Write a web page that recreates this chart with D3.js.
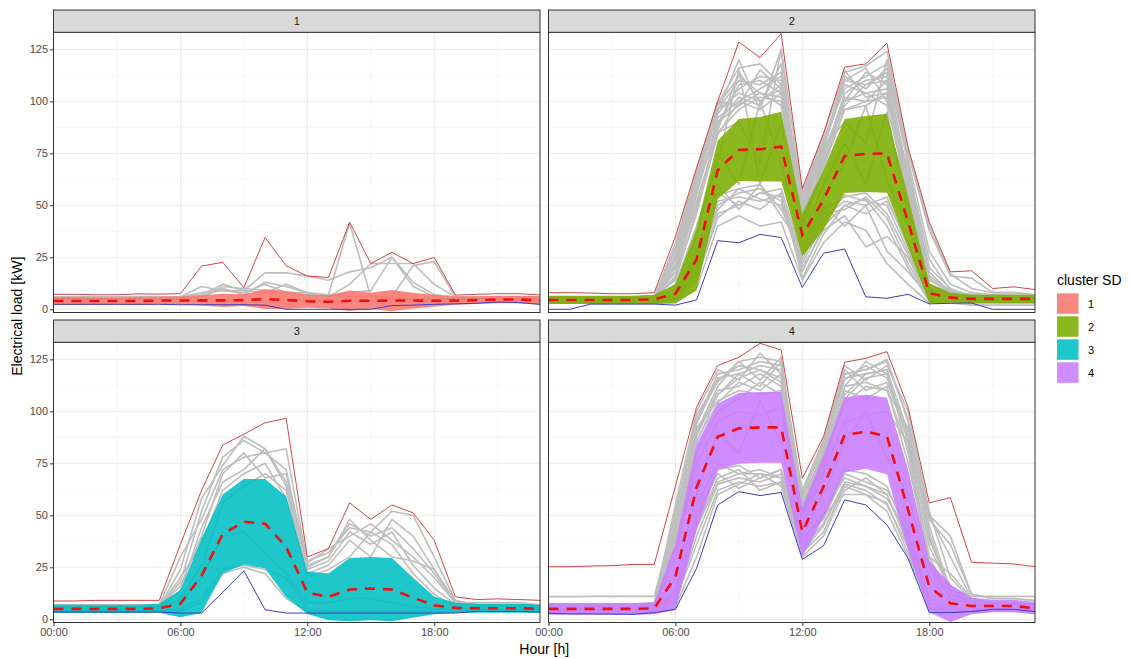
<!DOCTYPE html>
<html>
<head>
<meta charset="utf-8">
<script src="https://cdn.jsdelivr.net/npm/d3@7"></script>
<style>
  html, body { margin: 0; padding: 0; background: #fff; }
  svg { display: block; font-family: "Liberation Sans", Arial, sans-serif; }
</style>
</head>
<body>
<svg id="chart" width="1131" height="659"></svg>
<script>
// Hours of the day (hourly profile)
const hours = [0,1,2,3,4,5,6,7,8,9,10,11,12,13,14,15,16,17,18,19,20,21,22,23];
const clusters = ["1", "2", "3", "4"];
const clusterColors = ["#F8766D", "#7CAE00", "#00BFC4", "#C77CFF"];
const xTicks = [0, 6, 12, 18];
const xTickLabels = ["00:00", "06:00", "12:00", "18:00"];
const yTicks = [0, 25, 50, 75, 100, 125];

// Cluster 1
const mean1  = [4,4,4,4,4,4.2, 4.2,4.3,4.3,4.4,4.9,4.5, 3.9,3.6,4.1,4.1,4.2,4.2, 4.1,4.2,4.4,4.7,4.7,4.2];
const upper1 = [5.9,5.9,5.8,5.8,5.9,6, 6.2,6.8,7.5,7.2,9.6,8.8, 7,6.8,9,8,9.3,8, 7,6.2,6.2,6.5,6.5,6.2];
const lower1 = [2.1,2.1,2.2,2.2,2.1,2.4, 2.2,1.8,1.1,1.6,0.2,0.2, 0.8,0.4,-0.8,0.2,-0.9,0.4, 1.2,2.2,2.6,2.9,2.9,2.2];
const max1   = [7.2,7.2,7,7,7.4,7.3, 7.5,20.8,22.6,10.4,34.5,20.9, 16,15.3,41.9,22,27.4,22, 24.9,6.8,7.2,7.5,7.5,6.9];
const min1   = [2.4,2.4,2.4,2.4,2.4,2.4, 2.2,2.2,2.2,2.2,2,0, 0,0,0,0,1.8,2, 2.4,2.6,2.9,3.5,3.2,2.4];
const days1 = [
  [6,6,6,6,6,6, 6,11,9,8,12,8, 7,7,41.5,6,5,5, 5,5,5,5,5,5],
  [5,5,5,5,5,5, 6,7,12,9,17.5,17.5, 16,14,18,20,25,11, 6,5,5,5,5,5],
  [5,5,5,5,5,5, 5,6,10,7,13,11, 8,6,12,22,22,22, 12,6,5,5,5,5],
  [5,5,5,5,5,5, 5,6,11,10,9,8, 8,7,6,6,6,21, 23,6,5,5,5,5],
  [6,6,6,6,6,6, 6,8,9,9,8,12, 8,6,8,9,25,13, 7,6,6,6,6,6]
];

// Cluster 2
const mean2  = [4.5,4.5,4.5,4.5,4.5,4.8, 7.5,24,67,76.6,77,78.2, 35.7,52.6,73.7,74.7,75, 42,7.7,5.6,5,5,5,5];
const upper2 = [6.5,6.5,6.5,6.5,6.5,7, 12,39,81,91.5,92.5,95, 46,67,91.5,93,94, 54,12.5,8,7,7,7,7];
const lower2 = [2.5,2.5,2.5,2.5,2.5,2.6, 3,9,53,61.7,61.5,61.4, 25.4,38.2,55.9,56.4,56, 30,2.9,3.2,3,3,3,3];
const max2   = [8,8,7.8,7.5,7.5,8, 35,68,100,128.5,121,132.5, 58,84.5,116.5,118,128, 78,42,18,18.5,10,10.8,9.5];
const min2   = [0,0,2.5,2.5,2.5,2.5, 2,4.5,33,32,36,34.5, 10.5,27,29,6,5.3,7.2, 2.6,2.9,3,0,0,0];
const days2 = [
  [6,6,6,6,6,6.5, 22,60,96,104,100,108, 48,78,108,104,106, 62,12,8,7,6.5,6.5,6],
  [5,5,5,5,5,5.5, 18,55,92,100,106,112, 42,72,104,110,112, 58,10,7,6,6,6,5.5],
  [5,5,5,5,5,6, 28,64,98,112,104,102, 52,80,112,106,116, 70,16,9,7,6,6,6],
  [6,6,6,6,6,6, 14,48,88,108,110,104, 45,70,100,114,108, 52,9,7,6,6,6,6],
  [4,4,4,4,4,5, 25,62,95,120,96,125, 38,68,96,100,102, 66,20,10,6,5,5,5],
  [5,5,5,5,5,5, 30,66,100,98,115,106, 54,82,106,112,118, 72,28,12,8,7,7,6],
  [6,6,6,6,6,6, 20,58,90,102,98,118, 50,76,115,102,104, 60,14,8,7,6,6,6],
  [5,5,5,5,5,5, 16,52,85,96,102,100, 40,74,98,108,110, 55,10,6,6,5,5,5],
  [5,5,5,5,5,6, 24,60,94,106,112,110, 46,78,110,116,100, 68,24,9,7,6,6,6],
  [5,5,5,5,5,5, 26,62,96,110,108,114, 50,80,110,108,114, 64,18,8,7,6,6,6],
  [6,6,6,6,6,6, 18,56,90,98,104,98, 44,76,100,104,98, 56,12,7,6,6,6,6],
  [4,4,4,4,4,5, 21,58,86,114,100,106, 47,74,102,100,110, 62,15,8,6,5,5,5],
  [5,5,5,5,5,5, 15,46,84,100,96,104, 41,70,96,98,104, 50,9,7,6,5,5,5],
  [6,6,6,6,6,6, 32,67,99,116,118,108, 56,84,114,117,124, 76,40,17,10,8,8,7],
  [3,3,3,3,3,3, 5,18,50,56,58,52, 22,42,55,52,50, 28,5,4,3,3,3,3],
  [3,3,3,3,3,3, 4,14,44,52,48,56, 15,36,50,46,52, 32,5,4,3,3,3,3],
  [4,4,4,4,4,4, 6,24,56,50,56,58, 26,46,48,54,44, 22,5,4,4,4,4,4],
  [3,3,3,3,3,3, 3,10,40,45,40,42, 14,32,42,38,22, 12,3,3,2,2,2,2],
  [3,3,3,3,3,3, 5,20,48,58,53,50, 20,38,45,30,35, 25,4,4,3,3,3,3],
  [4,4,4,4,4,4, 8,28,60,48,60,45, 30,50,40,50,28, 18,6,5,4,4,4,4],
  [3,3,3,3,3,3, 6,22,52,54,52,55, 24,44,52,50,54, 30,5,4,3,3,3,3],
  [4,4,4,4,4,4, 7,26,55,58,60,48, 28,48,54,56,46, 26,6,5,4,4,4,4],
  [3,3,3,3,3,3, 5,16,46,50,56,54, 18,40,50,53,40, 20,4,4,3,3,3,3],
  [5,5,5,5,5,5, 12,40,70,115,60,90, 35,60,80,60,95, 45,8,6,5,5,5,5],
  [4,4,4,4,4,4, 10,35,75,60,100,70, 30,55,70,98,62, 40,7,5,4,4,4,4],
  [6,6,6,6,6,6, 20,50,85,90,70,125, 55,78,90,80,120, 75,38,16,15,8,8,7]
];

// Cluster 3
const mean3  = [5,5,5,5,5,5.3, 7.5,21,41,46.9,46,34.8, 12.8,10.8,14.3,14.8,14.3,10.4, 6.7,5.5,5.3,5.3,5.3,5];
const upper3 = [7,7,7,7,7,7.5, 14,39,60,67.5,67.5,59, 23,22,29.5,30,29.5,20, 11,8,7.5,7.5,7.5,7];
const lower3 = [3,3,3,3,3,3.1, 1,3,22,26.3,24.5,10.6, 2.6,-0.4,-0.9,-0.4,-0.9,0.8, 2.4,3,3.1,3.1,3.1,3];
const max3   = [8.8,8.8,9.1,9.1,9.1,9.1, 36,62,83.8,89,94.5,96.6, 30,34,56,48,55,51.2, 38,10.8,9.5,9.8,9.5,9.1];
const min3   = [3.5,3.5,3.5,3.5,3.5,3.5, 3,3,13,23.3,4.6,3, 3,3,3,3,3,3, 3,3,3.8,3.8,3.8,3.5];
const days3 = [
  [6,6,6,6,6,6, 18,52,78,86,80,72, 26,30,46,40,44, 34,22,8,7,7,7,7],
  [5,5,5,5,5,6, 24,58,74,88,82,66, 28,32,44,42,52, 50,30,9,7,7,7,6],
  [7,7,7,7,7,7, 30,48,72,78,80,82, 27,34,40,46,38, 30,20,8,8,8,8,7],
  [5,5,5,5,5,5, 14,44,66,72,82,64, 24,28,42,36,42, 26,15,7,6,6,6,6],
  [6,6,6,6,6,6, 20,36,62,70,75,58, 22,26,38,30,48, 40,24,9,7,7,7,6],
  [4,4,4,4,4,4, 10,26,56,64,70,62, 20,24,30,42,36, 22,12,6,5,5,5,5],
  [6,6,6,6,6,6, 16,40,70,80,68,70, 25,30,48,38,30, 28,24,8,7,7,7,6],
  [4,4,4,4,4,4, 5,10,24,26,24,20, 5,4,4,4,4,4, 4,4,4,4,4,4],
  [4,4,4,4,4,4, 4,8,22,25,22,10, 4,4,4,4,4,4, 4,4,4,4,4,4],
  [5,5,5,5,5,5, 8,20,40,42,32,22, 8,8,10,10,8,6, 5,5,5,5,5,5]
];

// Cluster 4
const mean4  = [5,5,5,5,5,5.3, 20.5,63.5,87.8,91.8,92.3,92.3, 42,63.8,88.6,90.2,88.1, 52.6,15.7,7.7,6.4,6.4,6.4,5.3];
const upper4 = [7.8,7.8,7.8,7.8,7.8,8.2, 36.5,84,103.8,108.8,109.3,109.3, 54,78.8,106.6,108,106.5, 72,28,16.7,10.4,9.4,9.4,8.3];
const lower4 = [2.2,2.2,2.2,2.2,2.2,2.4, 4.5,43,71.8,74.8,75.3,75.3, 30,48.8,70.6,72.4,69.7, 33.2,3.4,-1.3,2.4,3.4,3.4,2.3];
const max4   = [25.3,25.3,25.6,25.8,26.4,26.4, 64,102,122,126,132.7,129.5, 67.8,87.8,123.6,125.5,128.7, 102,56,58.5,27.4,27,26.6,25.3];
const min4   = [2.9,2.6,2.6,2.5,2.4,3.2, 4.8,24.5,55,61.4,59.5,61, 28.8,35.3,57.4,55,45.4, 29.3,3.2,3.2,3.7,4.8,4.8,3.7];
const days4 = [
  [6,6,6,6,6,7, 45,95,118,120,124,122, 55,82,118,120,125, 95,40,12,8,7,7,6],
  [5,5,5,5,5,6, 40,90,112,124,115,126, 50,78,112,124,118, 85,30,10,7,7,6,6],
  [7,7,7,7,7,8, 55,100,120,115,128,118, 62,86,122,115,122, 100,52,20,9,8,8,7],
  [5,5,5,5,5,6, 35,85,108,118,112,124, 48,75,108,118,120, 80,25,10,7,6,6,6],
  [10.9,10.9,11,11,11,11, 50,98,115,122,120,116, 58,84,115,122,116, 90,45,14,11,11,11,11],
  [6,6,6,6,6,6, 38,88,110,112,118,112, 52,80,120,110,114, 88,35,14,8,7,7,6],
  [6,6,6,6,6,6, 48,92,105,110,108,110, 60,76,104,112,110, 92,48,36,12,10,10,9],
  [5,5,5,5,5,5, 30,80,100,106,114,108, 45,72,110,106,112, 75,30,22,10,8,8,7],
  [6,6,6,6,6,6, 42,94,116,118,122,120, 56,80,116,118,120, 90,42,12,9,8,8,7],
  [5,5,5,5,5,5, 36,86,104,114,110,118, 50,78,112,114,110, 82,28,10,8,7,7,6],
  [7,7,7,7,7,7, 52,96,114,124,126,124, 60,86,118,120,124, 96,50,40,12,10,10,9],
  [5,5,5,5,5,5, 44,90,108,116,120,114, 54,82,106,116,118, 86,38,16,8,7,7,6],
  [4,4,4,4,4,4, 8,40,65,68,66,70, 32,45,65,62,55, 35,5,4,4,4,4,4],
  [3,3,3,3,3,4, 6,30,60,65,70,64, 30,40,62,68,60, 38,4,4,4,4,4,4],
  [5,5,5,5,5,5, 10,45,68,72,62,66, 35,50,60,60,52, 30,6,5,5,5,5,5],
  [4,4,4,4,4,4, 12,50,70,63,68,72, 38,52,68,64,58, 42,8,5,5,5,5,5],
  [5,5,5,5,5,5, 14,55,75,70,72,68, 40,48,70,66,62, 45,10,6,5,5,5,5],
  [4,4,4,4,4,4, 10,44,66,70,70,68, 34,46,66,64,60, 36,6,5,4,4,4,4],
  [4,4,4,4,4,4, 9,36,62,66,64,66, 32,42,64,60,56, 32,5,4,4,4,4,4],
  [5,5,5,5,5,5, 12,48,72,74,68,72, 36,50,72,70,64, 40,8,5,5,5,5,5],
  [6,6,6,6,6,6, 30,75,95,100,98,102, 45,70,95,98,100, 85,50,30,10,8,8,7],
  [5,5,5,5,5,5, 20,60,90,80,105,85, 40,60,85,100,78, 60,20,8,6,6,6,6]
];

const panelData = [
  { mean: mean1, upper: upper1, lower: lower1, max: max1, min: min1, days: days1 },
  { mean: mean2, upper: upper2, lower: lower2, max: max2, min: min2, days: days2 },
  { mean: mean3, upper: upper3, lower: lower3, max: max3, min: min3, days: days3 },
  { mean: mean4, upper: upper4, lower: lower4, max: max4, min: min4, days: days4 }
];

// Layout
const svg = d3.select("#chart");
const panelX = [53.5, 548.5];
const panelY = [32.3, 342.3];
const panelW = 486.5, panelH = 280.2, stripH = 22.3;
const font = "'Liberation Sans', Arial, sans-serif";

const x = d3.scaleLinear().domain([0, 23]).range([0, panelW]);
const y = d3.scaleLinear().domain([-1.54, 133.2]).range([panelH, 0]);

const line = d3.line().x((d, i) => x(hours[i])).y(d => y(d));

clusters.forEach((c, i) => {
  const col = i % 2, row = Math.floor(i / 2);
  const d = panelData[i];
  const g = svg.append("g").attr("transform", `translate(${panelX[col]},${panelY[row]})`);

  g.append("clipPath").attr("id", "clip" + i)
    .append("rect").attr("width", panelW).attr("height", panelH);

  g.append("rect").attr("width", panelW).attr("height", panelH).attr("fill", "#fff");

  // grid
  const minorY = [12.5, 37.5, 62.5, 87.5, 112.5];
  const minorX = [3, 9, 15, 21];
  g.selectAll(".gmy").data(minorY).join("line")
    .attr("x1", 0).attr("x2", panelW).attr("y1", v => y(v)).attr("y2", v => y(v))
    .attr("stroke", "#F2F2F2").attr("stroke-width", 0.6);
  g.selectAll(".gmx").data(minorX).join("line")
    .attr("y1", 0).attr("y2", panelH).attr("x1", v => x(v)).attr("x2", v => x(v))
    .attr("stroke", "#F2F2F2").attr("stroke-width", 0.6);
  g.selectAll(".gy").data(yTicks).join("line")
    .attr("x1", 0).attr("x2", panelW).attr("y1", v => y(v)).attr("y2", v => y(v))
    .attr("stroke", "#EBEBEB").attr("stroke-width", 1);
  g.selectAll(".gx").data(xTicks).join("line")
    .attr("y1", 0).attr("y2", panelH).attr("x1", v => x(v)).attr("x2", v => x(v))
    .attr("stroke", "#EBEBEB").attr("stroke-width", 1);

  const plot = g.append("g").attr("clip-path", `url(#clip${i})`);

  // individual days
  plot.selectAll(".day").data(d.days).join("path")
    .attr("d", line).attr("fill", "none")
    .attr("stroke", "#BEBEBE").attr("stroke-width", 1.6).attr("stroke-linejoin", "round");

  // mean ± SD ribbon
  const area = d3.area()
    .x((v, k) => x(hours[k]))
    .y0((v, k) => y(d.lower[k]))
    .y1((v, k) => y(d.upper[k]));
  plot.append("path").attr("d", area(hours))
    .attr("fill", clusterColors[i]).attr("fill-opacity", 0.88);

  // max and min envelope
  plot.append("path").attr("d", line(d.max)).attr("fill", "none")
    .attr("stroke", "#D04545").attr("stroke-width", 1);
  plot.append("path").attr("d", line(d.min)).attr("fill", "none")
    .attr("stroke", "#3B3BC4").attr("stroke-width", 1);

  // mean profile
  plot.append("path").attr("d", line(d.mean)).attr("fill", "none")
    .attr("stroke", "#F00E0E").attr("stroke-width", 2.6)
    .attr("stroke-dasharray", "10,8");

  // border
  g.append("rect").attr("width", panelW).attr("height", panelH)
    .attr("fill", "none").attr("stroke", "#333").attr("stroke-width", 1);

  // strip
  g.append("rect").attr("y", -stripH).attr("width", panelW).attr("height", stripH)
    .attr("fill", "#D9D9D9").attr("stroke", "#333").attr("stroke-width", 1);
  g.append("text").attr("x", panelW / 2).attr("y", -stripH / 2 + 4)
    .attr("text-anchor", "middle").attr("font-size", 11).attr("fill", "#1A1A1A")
    .style("font-family", font).text(c);

  // y axis on left column
  if (col === 0) {
    const ya = g.append("g").call(d3.axisLeft(y).tickValues(yTicks).tickSize(3.5).tickPadding(2));
    ya.select(".domain").remove();
    ya.selectAll(".tick line").attr("stroke", "#333");
    ya.selectAll(".tick text").attr("fill", "#4D4D4D").attr("font-size", 11).style("font-family", font);
  }
  // x axis on bottom row
  if (row === 1) {
    const xa = g.append("g").attr("transform", `translate(0,${panelH})`)
      .call(d3.axisBottom(x).tickValues(xTicks).tickFormat((v, k) => xTickLabels[k]).tickSize(3.5).tickPadding(2));
    xa.select(".domain").remove();
    xa.selectAll(".tick line").attr("stroke", "#333");
    xa.selectAll(".tick text").attr("fill", "#4D4D4D").attr("font-size", 11).style("font-family", font);
  }
});

// axis titles
svg.append("text").attr("x", (panelX[0] + panelX[1] + panelW) / 2).attr("y", 654)
  .attr("text-anchor", "middle").attr("font-size", 14).attr("fill", "#000")
  .style("font-family", font).text("Hour [h]");
svg.append("text").attr("transform", `translate(22,${(10 + panelY[1] + panelH) / 2}) rotate(-90)`)
  .attr("text-anchor", "middle").attr("font-size", 14).attr("fill", "#000")
  .style("font-family", font).text("Electrical load [kW]");

// legend
const lg = svg.append("g").attr("transform", "translate(1057,0)");
lg.append("text").attr("x", 0).attr("y", 285).attr("font-size", 14).attr("fill", "#000")
  .style("font-family", font).text("cluster SD");
clusters.forEach((c, i) => {
  const ky = 293.3 + i * 23;
  lg.append("rect").attr("x", 0).attr("y", ky).attr("width", 21.5).attr("height", 20.5)
    .attr("fill", clusterColors[i]).attr("fill-opacity", 0.88);
  lg.append("text").attr("x", 31).attr("y", ky + 14.3).attr("font-size", 11).attr("fill", "#000")
    .style("font-family", font).text(c);
});
</script>
</body>
</html>
